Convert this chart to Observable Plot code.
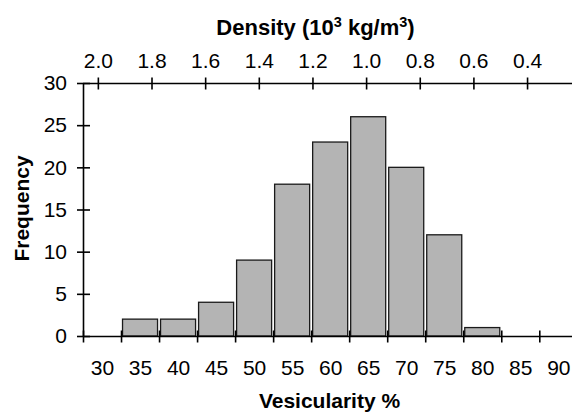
<!DOCTYPE html>
<html><head><meta charset="utf-8">
<script src="https://cdn.jsdelivr.net/npm/d3@7"></script>
<script src="https://cdn.jsdelivr.net/npm/@observablehq/plot@0.6"></script>
<style>html,body{margin:0;padding:0;background:#fff}</style>
</head><body><div id="chart"></div>
<script>
// Data
const vesicularity = [35, 40, 45, 50, 55, 60, 65, 70, 75, 80];
const frequency = [2, 2, 4, 9, 18, 23, 26, 20, 12, 1];
const vesTicks = [30, 35, 40, 45, 50, 55, 60, 65, 70, 75, 80, 85, 90];
const densityTicks = [2.0, 1.8, 1.6, 1.4, 1.2, 1.0, 0.8, 0.6, 0.4];
const freqTicks = [0, 5, 10, 15, 20, 25, 30];
const binWidth = 5;
const grainDensity = 2.835; // vesicularity % = 100 * (1 - density / grainDensity)

const ves = d => 100 * (1 - d / grainDensity);
const bins = vesicularity.map((v, i) => ({v, f: frequency[i]}));
const boundaries = vesTicks.map(v => v - binWidth / 2);

const vTick = {draw(ctx) { ctx.moveTo(0, -6); ctx.lineTo(0, 6); }};
const hTick = {draw(ctx) { ctx.moveTo(-6.5, 0); ctx.lineTo(6.5, 0); }};
const ink = "#000";

const chart = Plot.plot({
  width: 572,
  height: 414,
  marginLeft: 83,
  marginRight: 0,
  marginTop: 83,
  marginBottom: 78,
  style: {fontFamily: "'Liberation Sans', Arial, Helvetica, sans-serif", fontSize: "21px", color: "#000", background: "#fff"},
  x: {domain: [27.5, 91.8]},
  y: {domain: [0, 30]},
  marks: [
    Plot.rectY(bins, {x1: d => d.v - binWidth / 2, x2: d => d.v + binWidth / 2, y: "f",
      insetLeft: 1.5, insetRight: 1.5, fill: "#b4b4b4", stroke: "#1a1a1a", strokeWidth: 1.3}),
    Plot.ruleY([0], {stroke: ink, strokeWidth: 1.6}),
    Plot.ruleY([30], {stroke: ink, strokeWidth: 1.6}),
    Plot.ruleX([boundaries[0]], {y1: 0, y2: 30, stroke: ink, strokeWidth: 1.6}),
    Plot.dot(boundaries, {x: d => d, frameAnchor: "bottom", symbol: vTick, stroke: ink, fill: "none", strokeWidth: 1.6}),
    Plot.dot(densityTicks, {x: ves, frameAnchor: "top", symbol: vTick, stroke: ink, fill: "none", strokeWidth: 1.6}),
    Plot.dot(freqTicks, {y: d => d, frameAnchor: "left", symbol: hTick, stroke: ink, fill: "none", strokeWidth: 1.6}),
    Plot.axisX(vesTicks, {anchor: "bottom", tickSize: 0, tickPadding: 24, label: null, fontSize: 21}),
    Plot.axisY(freqTicks, {anchor: "left", tickSize: 0, tickPadding: 16.5, label: null, fontSize: 21}),
    Plot.text(densityTicks, {x: ves, frameAnchor: "top", lineAnchor: "middle", textAnchor: "middle", dy: -22,
      text: d => d.toFixed(1), fontSize: 21, fill: ink}),
    Plot.text(["Density (10³ kg/m³)"], {frameAnchor: "top-left", lineAnchor: "middle", textAnchor: "middle",
      dx: 232, dy: -55.5, text: d => d, fontSize: 22, fontWeight: "bold", fill: ink, className: "density-title"}),
    Plot.text(["Vesicularity %"], {frameAnchor: "bottom", lineAnchor: "middle", textAnchor: "middle",
      dx: 1.5, dy: 65, text: d => d, fontSize: 21, fontWeight: "bold", fill: ink}),
    Plot.text(["Frequency"], {frameAnchor: "left", lineAnchor: "middle", textAnchor: "middle",
      dx: -61, dy: -1.5, rotate: -90, text: d => d, fontSize: 21, fontWeight: "bold", fill: ink})
  ]
});
document.getElementById("chart").appendChild(chart);

// Render the superscripts of the density title as real raised text
const t = d3.select(chart).select(".density-title text");
if (!t.empty()) {
  t.text(null);
  const parts = [["Density (10", 0, null], ["3", -8, 14.5], [" kg/m", 8, null], ["3", -8, 14.5], [")", 8, null]];
  for (const [s, dy, fs] of parts) {
    const sp = t.append("tspan").attr("dy", dy).text(s);
    if (fs) sp.attr("font-size", fs);
  }
}
</script>
</body></html>
